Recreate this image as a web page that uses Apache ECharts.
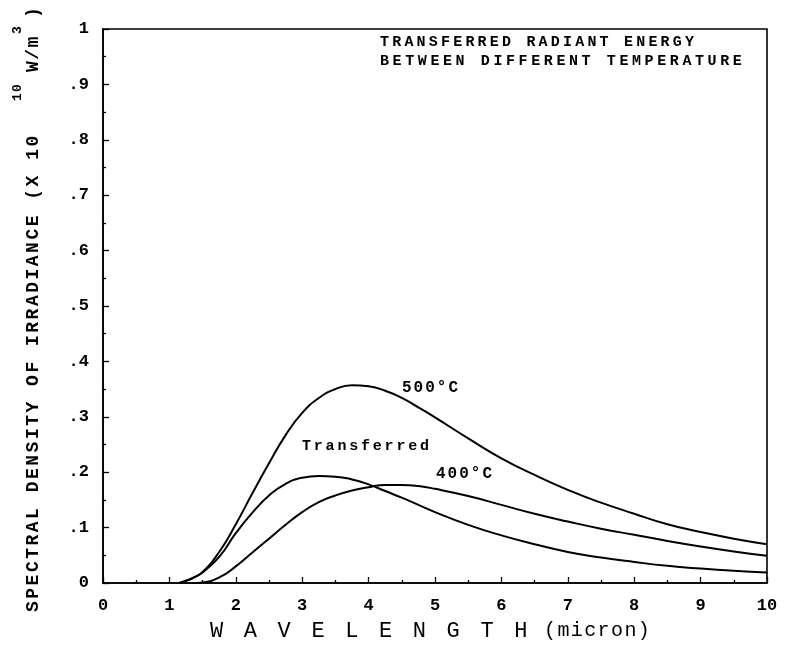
<!DOCTYPE html>
<html>
<head>
<meta charset="utf-8">
<script src="https://cdn.jsdelivr.net/npm/echarts@6/dist/echarts.min.js"></script>
<style>
  html, body { margin: 0; padding: 0; background: #fff; }
  #chart { width: 786px; height: 648px; }
</style>
</head>
<body>
<div id="chart"></div>
<script>
// Wavelength samples (micron) shared by the three curves
const wavelength = [1.15, 1.25, 1.35, 1.5, 1.75, 2.0, 2.25, 2.5, 2.75, 3.0, 3.25, 3.5, 3.75,
  4.0, 4.25, 4.5, 4.75, 5.0, 5.5, 6.0, 6.5, 7.0, 7.5, 8.0, 8.5, 9.0, 9.5, 10];

// Spectral density of irradiance (x 10^10 W/m^3)
const irr500 = [0, 0.004, 0.009, 0.020, 0.056, 0.106, 0.162, 0.216, 0.267, 0.307, 0.334, 0.350, 0.357,
  0.355, 0.347, 0.334, 0.317, 0.299, 0.261, 0.225, 0.195, 0.168, 0.145, 0.125, 0.106, 0.092, 0.080, 0.070];
const irr400 = [null, null, 0, 0.001, 0.010, 0.030, 0.055, 0.080, 0.105, 0.128, 0.146, 0.158, 0.167,
  0.173, 0.177, 0.177, 0.175, 0.170, 0.157, 0.141, 0.125, 0.111, 0.098, 0.087, 0.076, 0.066, 0.057, 0.049];
const irrTransferred = [0, 0.004, 0.009, 0.019, 0.047, 0.090, 0.127, 0.158, 0.179, 0.190, 0.193, 0.192, 0.187,
  0.178, 0.166, 0.154, 0.141, 0.128, 0.105, 0.086, 0.070, 0.056, 0.046, 0.038, 0.031, 0.026, 0.022, 0.019];

const seriesNames = ['500°C', '400°C', 'Transferred'];
const titleLines = ['TRANSFERRED RADIANT ENERGY', 'BETWEEN DIFFERENT TEMPERATURE'];
const xTitleLetters = 'WAVELENGTH';
const xTitleUnit = '(micron)';
const yTitleMain = 'SPECTRAL DENSITY OF IRRADIANCE (X 10';
const yTitleUnit = 'W/m';

const FONT = '"Liberation Mono", "DejaVu Sans Mono", monospace';

function pairs(xs, ys) {
  return xs.map((x, i) => [x, ys[i]]);
}

// Build a rich string where every character sits in a fixed-width box (plotter-like spacing)
function spaced(text, key) {
  return text.split('').map(ch => '{' + key + '|' + (ch === ' ' ? '\u00a0' : ch) + '}').join('');
}

function spacedText(x, y, text, pitch, size, rotation, weight) {
  return {
    type: 'text',
    x: x, y: y,
    rotation: rotation || 0,
    silent: true,
    style: {
      text: spaced(text, 'c'),
      rich: {
        c: { width: pitch, fontSize: size, fontFamily: FONT, fontWeight: weight || 'bold', color: '#000' }
      },
      align: 'left',
      verticalAlign: 'middle',
      fill: '#000'
    }
  };
}

const chart = echarts.init(document.getElementById('chart'), null, { renderer: 'canvas' });

const lineStyle = { color: '#000', width: 2 };
const tickStyle = { color: '#000', width: 1.3 };

const option = {
  backgroundColor: '#fff',
  animation: false,
  grid: {
    left: 103, right: 19, top: 29, bottom: 65,
    show: true, borderColor: '#000', borderWidth: 1.6
  },
  xAxis: {
    type: 'value', min: 0, max: 10, interval: 1,
    axisLine: { show: true, onZero: false, lineStyle: { color: '#000', width: 1.6 } },
    axisTick: { show: true, inside: true, length: 6, lineStyle: tickStyle },
    minorTick: { show: true, splitNumber: 2, length: 3, lineStyle: tickStyle },
    splitLine: { show: false },
    axisLabel: { color: '#000', fontSize: 17, fontWeight: 'bold', fontFamily: FONT, margin: 14 }
  },
  yAxis: {
    type: 'value', min: 0, max: 1, interval: 0.1,
    axisLine: { show: true, onZero: false, lineStyle: { color: '#000', width: 1.6 } },
    axisTick: { show: true, inside: true, length: 6, lineStyle: tickStyle },
    minorTick: { show: true, splitNumber: 2, length: 3, lineStyle: tickStyle },
    splitLine: { show: false },
    axisLabel: {
      color: '#000', fontSize: 17, fontWeight: 'bold', fontFamily: FONT, margin: 14,
      formatter: v => (v === 0 ? '0' : v === 1 ? '1' : '.' + Math.round(v * 10))
    }
  },
  series: [
    { name: seriesNames[0], type: 'line', data: pairs(wavelength, irr500), smooth: 0.5,
      showSymbol: false, lineStyle: lineStyle, connectNulls: false },
    { name: seriesNames[1], type: 'line', data: pairs(wavelength, irr400), smooth: 0.5,
      showSymbol: false, lineStyle: lineStyle, connectNulls: false },
    { name: seriesNames[2], type: 'line', data: pairs(wavelength, irrTransferred), smooth: 0.5,
      showSymbol: false, lineStyle: lineStyle, connectNulls: false }
  ],
  graphic: [
    // title block in the upper right
    spacedText(380, 42, titleLines[0], 12.2, 15),
    spacedText(380, 61, titleLines[1], 12.6, 15),
    // curve labels
    spacedText(402, 388, seriesNames[0], 11.6, 16),
    spacedText(436, 474, seriesNames[1], 11.6, 16),
    spacedText(302, 446, seriesNames[2], 11.8, 15),
    // x axis title: widely spaced capitals followed by the unit
    spacedText(210, 631, xTitleLetters, 33.8, 22, 0, 'normal'),
    spacedText(544, 631, xTitleUnit, 13.4, 20, 0, 'normal'),
    // y axis title, read bottom to top, with superscript exponents
    spacedText(33, 612, yTitleMain, 13.3, 18, Math.PI / 2),
    spacedText(18, 101, '10', 9, 13, Math.PI / 2),
    spacedText(33, 72, yTitleUnit, 12.3, 18, Math.PI / 2),
    spacedText(18, 34, '3', 9, 13, Math.PI / 2),
    spacedText(33, 18, ')', 10, 18, Math.PI / 2)
  ]
};

chart.setOption(option);
</script>
</body>
</html>
